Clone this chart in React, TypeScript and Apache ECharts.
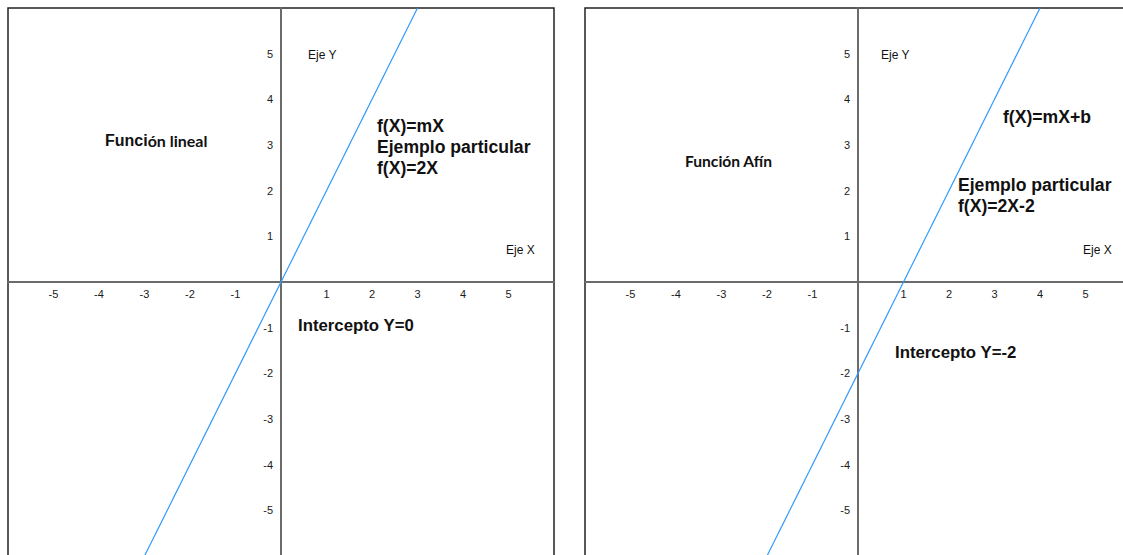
import React, { useEffect, useRef } from "react";
import * as echarts from "echarts";

// Axis ranges and tick values
const axisMin = -6;
const axisMax = 6;
const tickValues = [-5, -4, -3, -2, -1, 1, 2, 3, 4, 5];

// Función lineal: f(X) = 2X  (endpoints)
const linealX = [-3, 3];
const linealY = [-6, 6];

// Función afín: f(X) = 2X - 2
const afinX = [-2, 4];
const afinY = [-6, 6];

const ARIAL = 'Arial, "Liberation Sans", sans-serif';
const CAL = 'Lato, "Open Sans", sans-serif';
const LINE_COLOR = "#3399ff";

const GRID_W = 546;
const GRID_H = 548;

const fmt = (v: number) => (tickValues.includes(v) ? String(v) : "");

function makeAxes(gridIndex: number) {
  const x = {
    type: "value",
    gridIndex,
    min: axisMin,
    max: axisMax,
    interval: 1,
    position: "bottom",
    offset: -GRID_H / 2,
    axisLine: { onZero: false, lineStyle: { color: "#6b6b6b", width: 2 } },
    axisTick: { show: false },
    splitLine: { show: false },
    axisLabel: {
      formatter: fmt,
      color: "#1a1a1a",
      fontSize: 11,
      fontFamily: ARIAL,
      margin: 6,
      showMinLabel: false,
      showMaxLabel: false,
    },
  };
  const y = {
    type: "value",
    gridIndex,
    min: axisMin,
    max: axisMax,
    interval: 1,
    position: "left",
    offset: -GRID_W / 2,
    axisLine: { onZero: false, lineStyle: { color: "#6b6b6b", width: 2 } },
    axisTick: { show: false },
    splitLine: { show: false },
    axisLabel: {
      formatter: fmt,
      color: "#1a1a1a",
      fontSize: 11,
      fontFamily: ARIAL,
      margin: 8,
      padding: [0, 0, 4, 0],
      showMinLabel: false,
      showMaxLabel: false,
    },
  };
  return { x, y };
}

function txt(text: string, x: number, y: number, font: string) {
  return {
    type: "text",
    x,
    y,
    silent: true,
    style: { text, font, fill: "#111", verticalAlign: "middle", align: "left" },
  };
}

export default function App() {
  const ref = useRef<HTMLDivElement>(null);
  useEffect(() => {
    if (!ref.current) return;
    const chart = echarts.init(ref.current, undefined, { renderer: "svg" });
    const a0 = makeAxes(0);
    const a1 = makeAxes(1);
    const big = `bold 17.6px ${ARIAL}`;
    const mid = `bold 16.8px ${ARIAL}`;
    const small = `12px ${ARIAL}`;
    const gridBase = {
      width: GRID_W,
      height: GRID_H,
      show: true,
      borderColor: "#222",
      borderWidth: 1.5,
      containLabel: false,
      outerBoundsMode: "none",
    };
    chart.setOption({
      animation: false,
      backgroundColor: "#fff",
      grid: [
        { ...gridBase, left: 8, top: 8 },
        { ...gridBase, left: 585, top: 8 },
      ],
      xAxis: [a0.x, a1.x],
      yAxis: [a0.y, a1.y],
      series: [
        {
          type: "line",
          xAxisIndex: 0,
          yAxisIndex: 0,
          data: linealX.map((v, i) => [v, linealY[i]]),
          showSymbol: false,
          lineStyle: { color: LINE_COLOR, width: 1.2 },
          clip: true,
        },
        {
          type: "line",
          xAxisIndex: 1,
          yAxisIndex: 1,
          data: afinX.map((v, i) => [v, afinY[i]]),
          showSymbol: false,
          lineStyle: { color: LINE_COLOR, width: 1.2 },
          clip: true,
        },
      ],
      graphic: [
        {
          type: "text",
          x: 105,
          y: 140,
          silent: true,
          style: {
            text: "{a|Funci}{b|ón lineal}",
            verticalAlign: "middle",
            rich: {
              a: { font: `bold 16px ${ARIAL}`, fill: "#111" },
              b: { font: `bold 16px ${CAL}`, fill: "#111" },
            },
          },
        },
        txt("Eje Y", 308, 55, small),
        txt("f(X)=mX", 377, 126, big),
        txt("Ejemplo particular", 377, 147, big),
        txt("f(X)=2X", 377, 168, big),
        txt("Eje X", 506, 250, small),
        txt("Intercepto Y=0", 298, 325, mid),

        txt("Eje Y", 881, 55, small),
        txt("Función Afín", 685, 161, `bold 15.6px ${CAL}`),
        txt("f(X)=mX+b", 1003, 117, big),
        txt("Ejemplo particular", 958, 185, big),
        txt("f(X)=2X-2", 958, 206, big),
        txt("Eje X", 1083, 250, small),
        txt("Intercepto Y=-2", 895, 352, mid),
      ],
    });
    return () => chart.dispose();
  }, []);
  return (
    <div
      ref={ref}
      style={{ position: "absolute", left: 0, top: 0, width: 1123, height: 555, background: "#fff" }}
    />
  );
}
